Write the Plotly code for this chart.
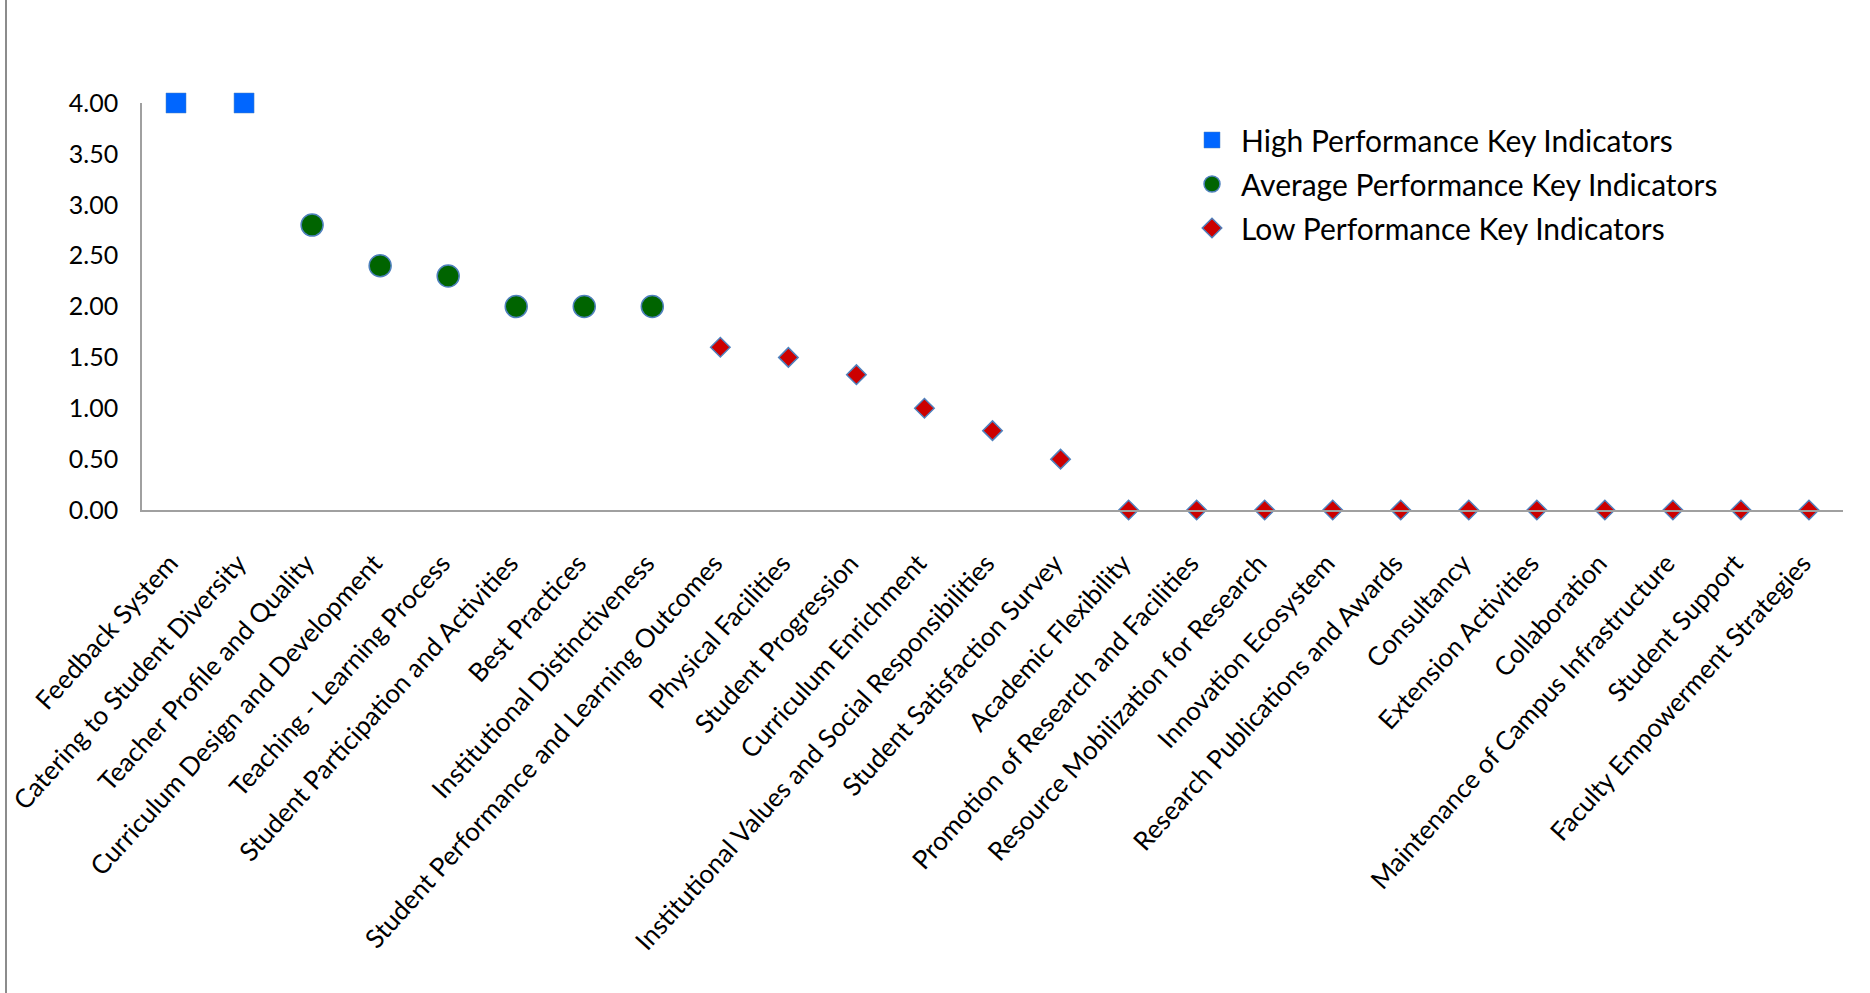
import plotly.graph_objects as go

categories = [
    "Feedback System", "Catering to Student Diversity", "Teacher Profile and Quality",
    "Curriculum Design and Development", "Teaching - Learning Process",
    "Student Participation and Activities", "Best Practices", "Institutional Distinctiveness",
    "Student Performance and Learning Outcomes", "Physical Facilities", "Student Progression",
    "Curriculum Enrichment", "Institutional Values and Social Responsibilities",
    "Student Satisfaction Survey", "Academic Flexibility", "Promotion of Research and Facilities",
    "Resource Mobilization for Research", "Innovation Ecosystem", "Research Publications and Awards",
    "Consultancy", "Extension Activities", "Collaboration", "Maintenance of Campus Infrastructure",
    "Student Support", "Faculty Empowerment Strategies",
]
scores = [4.00, 4.00, 2.80, 2.40, 2.30, 2.00, 2.00, 2.00, 1.60, 1.50, 1.33, 1.00, 0.78, 0.50,
          0, 0, 0, 0, 0, 0, 0, 0, 0, 0, 0]
tiers = ["High"] * 2 + ["Average"] * 6 + ["Low"] * 17

series_names = {
    "High": "High Performance Key Indicators",
    "Average": "Average Performance Key Indicators",
    "Low": "Low Performance Key Indicators",
}
y_ticks = [0, 0.5, 1, 1.5, 2, 2.5, 3, 3.5, 4]

styles = {
    "High": dict(symbol="square", size=20, color="#0066FF", line=dict(color="#4F81BD", width=0.5)),
    "Average": dict(symbol="circle", size=22, color="#006400", line=dict(color="#4F81BD", width=1.5)),
    "Low": dict(symbol="diamond", size=15, color="#CC0000", line=dict(color="#4F81BD", width=1.5)),
}

FONT = "Lato"
fig = go.Figure()
for tier in ["High", "Average", "Low"]:
    xs = [c for c, t in zip(categories, tiers) if t == tier]
    ys = [s for s, t in zip(scores, tiers) if t == tier]
    fig.add_trace(go.Scatter(x=xs, y=ys, mode="markers", name=series_names[tier],
                             legendgroup=tier, marker=styles[tier], cliponaxis=False))

W, H = 1870, 993
L, R, T, B = 142, 27, 103, 483
pw, ph = W - L - R, H - T - B

fig.update_layout(
    width=W, height=H,
    margin=dict(l=L, r=R, t=T, b=B, pad=0, autoexpand=False),
    paper_bgcolor="white", plot_bgcolor="white",
    font=dict(family=FONT, color="black", size=25),
    showlegend=True,
    legend=dict(x=(1183 - L) / pw, y=(510 - 114) / ph, xanchor="left", yanchor="top",
                font=dict(family=FONT, size=30, color="black"),
                bgcolor="rgba(0,0,0,0)", itemsizing="trace", itemwidth=48,
                traceorder="grouped", tracegroupgap=2),
    xaxis=dict(type="category", categoryorder="array", categoryarray=categories,
               range=[-0.5, len(categories) - 0.5], showgrid=False, zeroline=False,
               automargin=False,
               showline=True, linecolor="#A0A0A0", linewidth=1.5,
               tickangle=-48, ticks="outside", ticklen=26, tickcolor="rgba(0,0,0,0)",
               ticklabelshift=-6,
               tickfont=dict(family=FONT, size=26, color="black")),
    yaxis=dict(range=[0, 4], tickvals=y_ticks, tickformat=".2f", showgrid=False,
               zeroline=False, automargin=False,
               showline=True, linecolor="#A0A0A0", linewidth=1.5,
               ticks="outside", ticklen=17, tickcolor="rgba(0,0,0,0)",
               tickfont=dict(family=FONT, size=25, color="black")),
    shapes=[dict(type="line", xref="paper", yref="paper",
                 x0=(6 - L) / pw, x1=(6 - L) / pw, y0=(510 - 0) / ph, y1=(510 - 993) / ph,
                 line=dict(color="#8C8C8C", width=2))],
)

fig.write_html("out.html", config={"displayModeBar": False},
               post_script="document.body.style.margin='0px';")
